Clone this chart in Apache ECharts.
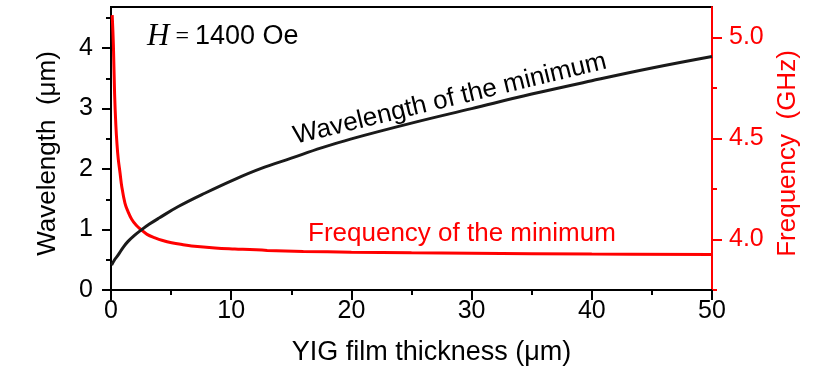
<!DOCTYPE html>
<html>
<head>
<meta charset="utf-8">
<script src="https://cdn.jsdelivr.net/npm/echarts@6/dist/echarts.min.js"></script>
<style>
  html, body { margin: 0; padding: 0; background: #fff; }
  #main { width: 830px; height: 372px; }
</style>
</head>
<body>
<div id="main"></div>
<script>
// film thickness (um) -> wavelength of the minimum (um)
var thickW = [0.05, 0.3, 0.6, 1, 1.4, 2, 2.5, 3.2, 4, 5.6, 7.8, 10.3, 12.5, 15, 17.5, 20, 25, 30, 35, 40, 45, 50];
var waveVals = [0.41, 0.50, 0.58, 0.70, 0.80, 0.91, 0.99, 1.09, 1.19, 1.38, 1.60, 1.83, 2.01, 2.18, 2.35, 2.50, 2.76, 3.00, 3.24, 3.46, 3.67, 3.86];

// film thickness (um) -> frequency of the minimum (GHz)
var thickF = [0.1, 0.2, 0.3, 0.4, 0.5, 0.6, 0.75, 0.9, 1.16, 1.4, 1.72, 2.1, 2.55, 3, 3.66, 4.3, 5.04, 6, 6.7, 8.65, 10.3, 13, 16, 20, 25, 30, 40, 50];
var freqVals = [5.11, 4.96, 4.72, 4.57, 4.47, 4.40, 4.33, 4.26, 4.18, 4.14, 4.10, 4.07, 4.046, 4.025, 4.008, 3.995, 3.984, 3.974, 3.968, 3.958, 3.953, 3.946, 3.941, 3.937, 3.934, 3.932, 3.928, 3.926];

var xTicks = [0, 10, 20, 30, 40, 50];
var leftTicks = [0, 1, 2, 3, 4];
var leftMinor = [0.5, 1.5, 2.5, 3.5, 4.5];
var rightTicks = [4.0, 4.5, 5.0];
var rightMinor = [3.75, 4.25, 4.75];

var FONT = "'Liberation Sans', Arial, sans-serif";
var RED = "#ff0000";

function pairs(xs, ys) {
  var out = [];
  for (var i = 0; i < xs.length; i++) out.push([xs[i], ys[i]]);
  return out;
}

var myChart = echarts.init(document.getElementById("main"));

var option = {
  animation: false,
  grid: {
    left: 111, right: 118, top: 7, bottom: 82,
    show: true, borderColor: "#000", borderWidth: 2
  },
  xAxis: {
    type: "value", min: 0, max: 50, interval: 10,
    name: "YIG film thickness (μm)",
    nameLocation: "middle", nameGap: 49,
    nameTextStyle: { fontFamily: FONT, fontSize: 27, color: "#000", padding: [0, 0, 0, 40] },
    axisLine: { lineStyle: { color: "#000", width: 2 } },
    axisTick: { length: 10, lineStyle: { color: "#000", width: 2 } },
    minorTick: { show: true, splitNumber: 2, length: 5, lineStyle: { color: "#000", width: 2 } },
    axisLabel: { fontFamily: FONT, fontSize: 25, color: "#000", margin: 9 },
    splitLine: { show: false }
  },
  yAxis: [
    {
      type: "value", position: "left", min: 0, max: 4.68,
      name: "Wavelength  (μm)",
      nameLocation: "middle", nameGap: 50, nameRotate: 90,
      nameTextStyle: { fontFamily: FONT, fontSize: 26, color: "#000", padding: [0, 10, 0, 0] },
      axisLine: { show: true, lineStyle: { color: "#000", width: 2 } },
      axisTick: { show: true, length: 9, customValues: leftTicks, lineStyle: { color: "#000", width: 2 } },
      axisLabel: { fontFamily: FONT, fontSize: 25, color: "#000", margin: 18, customValues: leftTicks },
      splitLine: { show: false }
    },
    {
      type: "value", position: "left", min: 0, max: 4.68,
      axisLine: { show: false },
      axisTick: { show: true, length: 5, customValues: leftMinor, lineStyle: { color: "#000", width: 2 } },
      axisLabel: { show: false },
      splitLine: { show: false }
    },
    {
      type: "value", position: "right", min: 3.75, max: 5.15,
      name: "Frequency  (GHz)",
      nameLocation: "middle", nameGap: 56, nameRotate: 90,
      nameTextStyle: { fontFamily: FONT, fontSize: 26, color: RED, padding: [0, 10, 0, 0] },
      axisLine: { show: true, lineStyle: { color: RED, width: 2 } },
      axisTick: { show: true, length: 10, customValues: rightTicks, lineStyle: { color: RED, width: 2 } },
      axisLabel: {
        fontFamily: FONT, fontSize: 25, color: RED, margin: 17, customValues: rightTicks,
        formatter: function (v) { return v.toFixed(1); }
      },
      splitLine: { show: false }
    },
    {
      type: "value", position: "right", min: 3.75, max: 5.15,
      axisLine: { show: false },
      axisTick: { show: true, length: 5, customValues: rightMinor, lineStyle: { color: RED, width: 2 } },
      axisLabel: { show: false },
      splitLine: { show: false }
    }
  ],
  series: [
    {
      type: "line", name: "Wavelength of the minimum", yAxisIndex: 0,
      data: pairs(thickW, waveVals), smooth: 0.4, showSymbol: false,
      lineStyle: { color: "#1a1a1a", width: 3 }, z: 3
    },
    {
      type: "line", name: "Frequency of the minimum", yAxisIndex: 2,
      data: pairs(thickF, freqVals), smooth: 0.4, showSymbol: false,
      lineStyle: { color: RED, width: 3 }, z: 2
    }
  ],
  graphic: [
    {
      type: "text", x: 147, y: 37,
      style: {
        text: "{i|H}{e| = }{n|1400 Oe}",
        verticalAlign: "middle",
        rich: {
          i: { fontFamily: "'Liberation Serif', 'Times New Roman', serif", fontStyle: "italic", fontSize: 31, fill: "#000" },
          e: { fontFamily: "'Liberation Serif', 'Times New Roman', serif", fontSize: 24, fill: "#000" },
          n: { fontFamily: FONT, fontSize: 27, fill: "#000" }
        }
      }
    },
    {
      type: "text", x: 450, y: 99, rotation: 0.238,
      style: {
        text: "Wavelength of the minimum", fontFamily: FONT, fontSize: 26, fill: "#000",
        align: "center", verticalAlign: "middle"
      }
    },
    {
      type: "text", x: 308, y: 234,
      style: {
        text: "Frequency of the minimum", fontFamily: FONT, fontSize: 26, fill: RED,
        align: "left", verticalAlign: "middle"
      }
    }
  ]
};

myChart.setOption(option);
</script>
</body>
</html>
